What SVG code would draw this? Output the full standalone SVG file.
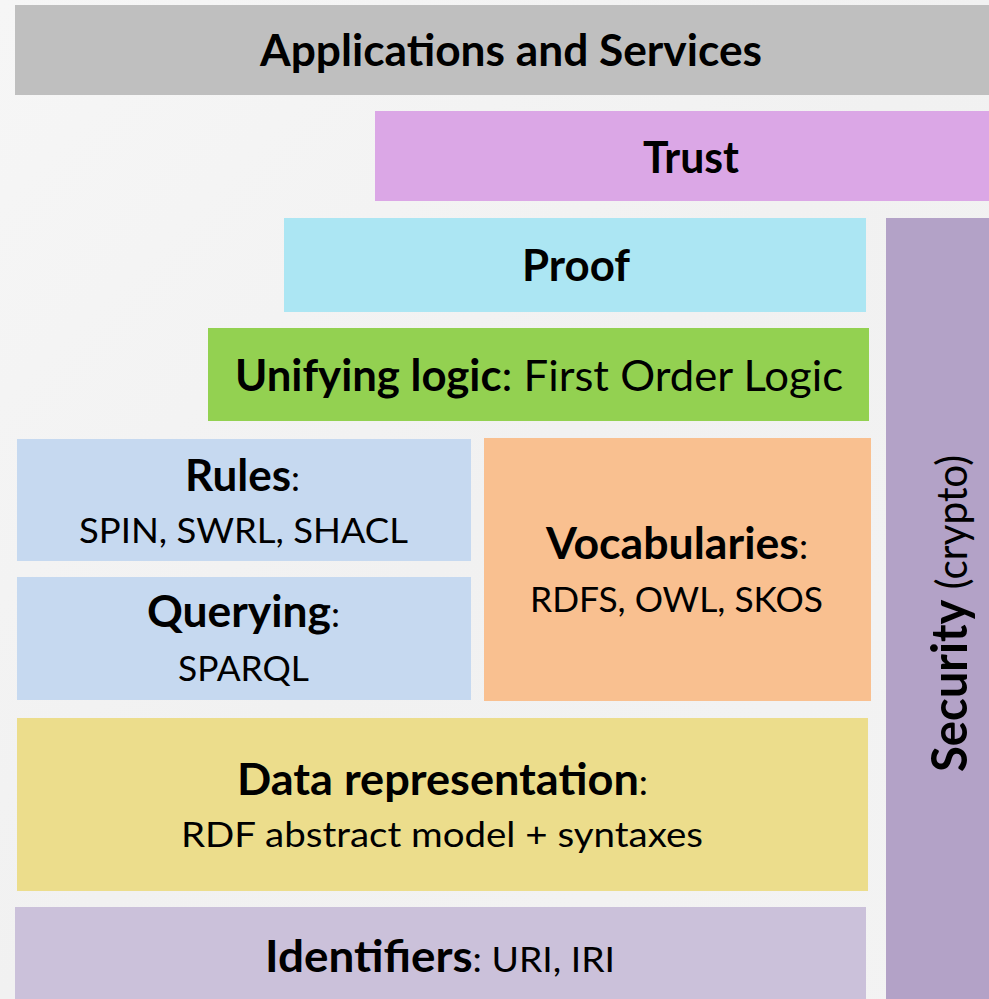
<svg xmlns="http://www.w3.org/2000/svg" width="989" height="999" viewBox="0 0 989 999">
  <defs>
    <linearGradient id="bg" x1="0" y1="0" x2="1" y2="1">
      <stop offset="0" stop-color="#f6f6f6"/>
      <stop offset="0.5" stop-color="#f1f1f1"/>
      <stop offset="1" stop-color="#f3f3f3"/>
    </linearGradient>
  </defs>
  <style>
    text { font-family: Lato, "Open Sans", "Liberation Sans", sans-serif; fill: #000; }
    .b { font-weight: bold; font-size: 43px; }
    .r { font-weight: normal; font-size: 35px; }
    .rb { font-weight: normal; font-size: 43px; }
  </style>
  <rect x="0" y="0" width="989" height="999" fill="url(#bg)"/>

  <g id="applications">
    <rect x="15" y="5" width="974" height="90" fill="#bfbfbf"/>
    <text class="b" x="260" y="66" textLength="502" lengthAdjust="spacingAndGlyphs">Applications and Services</text>
  </g>

  <g id="trust">
    <rect x="375" y="111" width="614" height="90" fill="#dba7e6"/>
    <text class="b" x="643" y="173" textLength="96" lengthAdjust="spacingAndGlyphs">Trust</text>
  </g>

  <g id="proof">
    <rect x="284" y="218" width="582" height="94" fill="#ace6f3"/>
    <text class="b" x="522" y="281" textLength="108" lengthAdjust="spacingAndGlyphs">Proof</text>
  </g>

  <g id="unifying-logic">
    <rect x="208" y="328" width="661" height="93" fill="#93d151"/>
    <text x="235" y="391" textLength="608" lengthAdjust="spacingAndGlyphs"><tspan class="b">Unifying logic</tspan><tspan class="rb">: First Order Logic</tspan></text>
  </g>

  <g id="rules">
    <rect x="17" y="439" width="454" height="122" fill="#c6d9f0"/>
    <text x="185" y="491" textLength="115" lengthAdjust="spacingAndGlyphs"><tspan class="b">Rules</tspan><tspan class="r">:</tspan></text>
    <text class="r" x="79" y="543" textLength="329" lengthAdjust="spacingAndGlyphs">SPIN, SWRL, SHACL</text>
  </g>

  <g id="querying">
    <rect x="17" y="577" width="454" height="123" fill="#c6d9f0"/>
    <text x="147" y="627" textLength="193" lengthAdjust="spacingAndGlyphs"><tspan class="b">Querying</tspan><tspan class="r">:</tspan></text>
    <text class="r" x="178" y="681" textLength="131" lengthAdjust="spacingAndGlyphs">SPARQL</text>
  </g>

  <g id="vocabularies">
    <rect x="484" y="438" width="387" height="263" fill="#f9c090"/>
    <text x="546" y="559" textLength="262" lengthAdjust="spacingAndGlyphs"><tspan class="b">Vocabularies</tspan><tspan class="r">:</tspan></text>
    <text class="r" x="530" y="612" textLength="293" lengthAdjust="spacingAndGlyphs">RDFS, OWL, SKOS</text>
  </g>

  <g id="data-representation">
    <rect x="17" y="718" width="851" height="173" fill="#ecdd8c"/>
    <text x="237" y="795" textLength="411" lengthAdjust="spacingAndGlyphs"><tspan class="b">Data representation</tspan><tspan class="r">:</tspan></text>
    <text class="r" x="181" y="847" textLength="522" lengthAdjust="spacingAndGlyphs">RDF abstract model + syntaxes</text>
  </g>

  <g id="identifiers">
    <rect x="15" y="907" width="851" height="92" fill="#cbc1da"/>
    <text x="265" y="972" textLength="350" lengthAdjust="spacingAndGlyphs"><tspan class="b">Identifiers</tspan><tspan class="r">: URI, IRI</tspan></text>
  </g>

  <g id="security">
    <rect x="886" y="218" width="103" height="781" fill="#b3a2c7"/>
    <text transform="translate(967,772) rotate(-90)" x="0" y="0" textLength="317" lengthAdjust="spacingAndGlyphs"><tspan style="font-weight:bold;font-size:50px">Security</tspan><tspan style="font-size:43px"> (crypto)</tspan></text>
  </g>

  <g id="connectors"></g>
</svg>
